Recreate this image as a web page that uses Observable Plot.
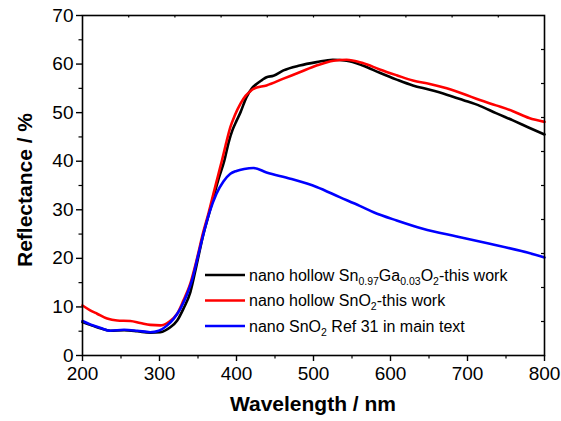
<!DOCTYPE html>
<html>
<head>
<meta charset="utf-8">
<script src="https://cdn.jsdelivr.net/npm/d3@7"></script>
<script src="https://cdn.jsdelivr.net/npm/@observablehq/plot@0.6"></script>
<style>
  html, body { margin: 0; padding: 0; background: #fff; }
  #chart { width: 561px; height: 421px; }
</style>
</head>
<body>
<div id="chart"></div>
<script>
// ---- Data ----
const gaWave = [200,210,223,236,254,271,288,301,314,323,331,340,348,357,364,370,377,384,390,395,400,405,413,420,426,433,439,448,461,482,504,525,543,564,586,608,629,651,673,694,716,737,759,780,800];
const gaRefl = [6.9,6.3,5.6,5.1,5.2,5.0,4.7,4.8,5.8,7.2,9.6,13.0,18.5,25,29,32.5,36.5,40,44,46.5,48.3,50,53.2,55,55.9,56.7,57.3,57.6,58.7,59.7,60.4,60.9,60.7,59.7,58.2,56.8,55.6,54.7,53.7,52.6,51.4,49.9,48.4,46.9,45.5];

const snWave = [200,210,219,232,245,262,275,288,301,312,323,331,340,348,357,364,370,376,381,387,392,398,405,412,418,422,439,461,482,504,526,543,564,586,608,629,651,673,694,716,737,759,780,800];
const snRefl = [10.3,9.3,8.6,7.6,7.2,7.1,6.7,6.3,6.2,6.9,8.6,11.3,14.8,19.5,25.5,29.5,33.3,37,40.1,44,47,49.5,51.8,53.5,54.4,54.9,55.6,57,58.3,59.7,60.7,60.9,60.2,58.9,57.7,56.6,55.9,55.0,53.9,52.6,51.5,50.3,48.9,48.1];

const refWave = [200,210,223,236,254,271,288,299,310,318,327,336,342,350,357,365,374,383,392,400,410,422,439,470,504,534,560,578,608,642,686,729,770,800];
const refRefl = [7.1,6.4,5.7,5.1,5.3,5.1,4.8,5.1,6.2,7.5,9.6,12.7,15.4,20.5,25,29.5,33.3,35.8,37.4,38.0,38.4,38.6,37.7,36.4,34.7,32.6,30.8,29.5,27.8,26.1,24.5,23.0,21.5,20.2];

const seriesNames = ["Ga", "SnO2", "Ref"];
const seriesColors = ["#000000", "#ff0000", "#0000ff"];

const xMajor = [200,300,400,500,600,700,800];
const xMinor = [250,350,450,550,650,750];
const yMajor = [0,10,20,30,40,50,60,70];
const yMinor = [5,15,25,35,45,55,65];
const xTop = [260,320,380,440,500,560,620,680,740];
const yRight = [7,14,21,28,35,42,49,56,63];

const xTitle = "Wavelength / nm";
const yTitle = "Reflectance / %";

const toRows = (name, w, r) => w.map((d, i) => ({series: name, wave: d, refl: r[i]}));
const rows = [
  ...toRows("Ga", gaWave, gaRefl),
  ...toRows("SnO2", snWave, snRefl),
  ...toRows("Ref", refWave, refRefl)
];

const W = 561, H = 421;
const mL = 82, mR = 17, mT = 15, mB = 66;
const innerW = W - mL - mR, innerH = H - mT - mB;

const plot = Plot.plot({
  width: W, height: H,
  marginLeft: mL, marginRight: mR, marginTop: mT, marginBottom: mB,
  style: {fontFamily: "'Liberation Sans', Arial, sans-serif", background: "#fff", color: "#000", overflow: "visible"},
  x: {domain: [200, 800]},
  y: {domain: [0, 70]},
  color: {domain: seriesNames, range: seriesColors},
  marks: [
    Plot.ruleX(xTop, {insetBottom: innerH - 2.5, strokeWidth: 1.2}),
    Plot.ruleY(yRight, {insetLeft: innerW - 3, strokeWidth: 1.2}),
    Plot.axisY({ticks: yMajor, tickSize: 6, tickPadding: 3, fontSize: 19, label: null, strokeWidth: 1.4}),
    Plot.axisY({ticks: yMinor, tickSize: 3.5, text: null, label: null, strokeWidth: 1.2}),
    Plot.axisX({ticks: xMajor, tickSize: 6, tickPadding: 5, fontSize: 19, label: null, strokeWidth: 1.4}),
    Plot.axisX({ticks: xMinor, tickSize: 3.5, text: null, label: null, strokeWidth: 1.2}),
    Plot.line(rows, {x: "wave", y: "refl", z: "series", stroke: "series", strokeWidth: 2.6, curve: "monotone-x"}),
    Plot.frame({stroke: "#000", strokeWidth: 1.6})
  ]
});

const svg = d3.select(plot);
const font = "'Liberation Sans', Arial, sans-serif";

svg.append("text")
  .attr("x", mL + innerW / 2).attr("y", 411)
  .attr("text-anchor", "middle")
  .attr("font-family", font).attr("font-weight", "bold").attr("font-size", 21)
  .attr("fill", "#000")
  .text(xTitle);

svg.append("text")
  .attr("transform", `translate(32,190) rotate(-90)`)
  .attr("text-anchor", "middle")
  .attr("font-family", font).attr("font-weight", "bold").attr("font-size", 21)
  .attr("fill", "#000")
  .text(yTitle);

// Legend
const legendItems = [
  {color: seriesColors[0], parts: [["nano hollow Sn"], ["0.97", "sub"], ["Ga"], ["0.03", "sub"], ["O"], ["2", "sub"], ["-this work"]]},
  {color: seriesColors[1], parts: [["nano hollow SnO"], ["2", "sub"], ["-this work"]]},
  {color: seriesColors[2], parts: [["nano SnO"], ["2", "sub"], [" Ref 31 in main text"]]}
];
const lg = svg.append("g").attr("text-anchor", "start");
legendItems.forEach((it, i) => {
  const cy = 275 + i * 25.5;
  lg.append("line").attr("x1", 205).attr("x2", 245).attr("y1", cy).attr("y2", cy)
    .attr("stroke", it.color).attr("stroke-width", 2.6);
  const t = lg.append("text").attr("x", 249).attr("y", cy + 5.5)
    .attr("text-anchor", "start")
    .attr("font-family", font).attr("font-size", 16).attr("fill", "#000");
  let shifted = false;
  it.parts.forEach(([s, kind]) => {
    const ts = t.append("tspan").text(s);
    if (kind === "sub") {
      ts.attr("font-size", 10.5).attr("dy", shifted ? 0 : 4);
      shifted = true;
    } else {
      if (shifted) ts.attr("dy", -4);
      shifted = false;
    }
  });
});

document.getElementById("chart").appendChild(plot);
</script>
</body>
</html>
